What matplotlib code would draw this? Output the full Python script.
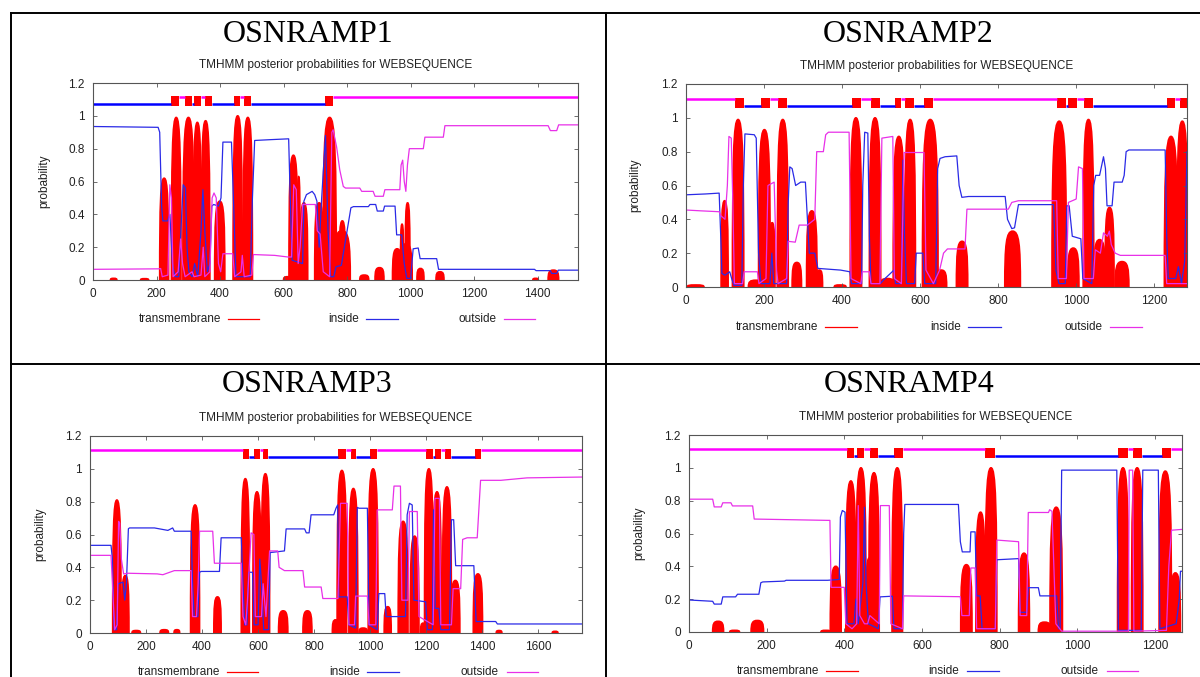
import matplotlib
matplotlib.use("Agg")
import matplotlib.pyplot as plt
from matplotlib.path import Path
from matplotlib.patches import PathPatch
from matplotlib.lines import Line2D

# ---- data ----
names = ["OSNRAMP1", "OSNRAMP2", "OSNRAMP3", "OSNRAMP4"]
seq_len = [1527, 1284, 1756, 1270]

# transmembrane peaks: (start, end, height)
tm1 = [(55, 75, 0.01), (150, 175, 0.008), (210, 238, 0.62), (247, 277, 0.99), (283, 318, 0.99),
       (316, 341, 0.96), (341, 368, 0.97), (383, 415, 0.48), (441, 470, 1.0), (473, 502, 0.99),
       (600, 625, 0.02), (617, 645, 0.76), (643, 652, 0.63), (652, 676, 0.47), (698, 726, 0.47),
       (724, 766, 0.99), (757, 810, 0.3), (775, 795, 0.36), (840, 868, 0.03), (888, 916, 0.075),
       (943, 972, 0.19), (965, 1005, 0.22), (968, 978, 0.34), (983, 998, 0.47), (1020, 1042, 0.07),
       (1080, 1105, 0.05), (1385, 1402, 0.01), (1433, 1466, 0.06)]
tm2 = [(3, 46, 0.012), (90, 108, 0.51), (119, 148, 0.99), (160, 198, 0.04), (186, 216, 0.93),
       (214, 228, 0.38), (234, 262, 0.99), (272, 296, 0.145), (309, 336, 0.45), (334, 350, 0.1),
       (380, 410, 0.012), (421, 450, 1.0), (470, 499, 1.0), (498, 534, 0.05), (531, 560, 0.89),
       (561, 588, 0.99), (606, 646, 0.99), (640, 668, 0.1), (693, 722, 0.27), (817, 857, 0.33),
       (938, 975, 0.98), (978, 1007, 0.23), (1018, 1045, 0.99), (1045, 1075, 0.28),
       (1074, 1097, 0.47), (1100, 1135, 0.15), (1226, 1260, 0.89), (1258, 1286, 0.98)]
tm3 = [(81, 111, 0.81), (113, 139, 0.35), (150, 180, 0.015), (250, 280, 0.02), (300, 320, 0.02),
       (359, 391, 0.78), (442, 468, 0.22), (540, 569, 0.94), (581, 611, 0.86), (611, 641, 0.97),
       (673, 706, 0.135), (760, 792, 0.135), (865, 888, 0.08), (882, 916, 0.99), (924, 956, 0.88),
       (960, 990, 0.03), (993, 1028, 1.0), (1050, 1075, 0.16), (1100, 1135, 0.68),
       (1143, 1174, 0.59), (1180, 1198, 0.06), (1194, 1225, 1.0), (1223, 1254, 0.86),
       (1258, 1290, 0.89), (1288, 1320, 0.32), (1368, 1401, 0.36), (1450, 1470, 0.015),
       (1650, 1670, 0.01)]
tm4 = [(61, 89, 0.065), (105, 130, 0.01), (160, 192, 0.07), (340, 365, 0.01), (364, 392, 0.4),
       (404, 430, 0.92), (430, 456, 1.0), (456, 472, 0.45), (463, 490, 0.97), (523, 550, 1.0),
       (700, 729, 0.41), (739, 763, 0.73), (763, 793, 1.0), (849, 877, 0.48), (900, 932, 0.06),
       (930, 962, 0.76), (1104, 1132, 1.0), (1140, 1169, 1.0), (1211, 1243, 0.98),
       (1240, 1266, 0.36)]

# inside probability (x, p)
inside1 = [(0, 0.935), (205, 0.93), (210, 0.9), (216, 0.45), (220, 0.36), (235, 0.36), (242, 0.4),
           (250, 0.1), (258, 0.02), (270, 0.02), (278, 0.35), (284, 0.58), (291, 0.56), (296, 0.2),
           (302, 0.05), (312, 0.02), (320, 0.1), (330, 0.02), (340, 0.3), (346, 0.55), (352, 0.3),
           (360, 0.05), (368, 0.1), (374, 0.45), (380, 0.46), (395, 0.45), (403, 0.5), (409, 0.84),
           (436, 0.84), (442, 0.5), (450, 0.02), (495, 0.02), (502, 0.5), (509, 0.85), (560, 0.855),
           (616, 0.86), (621, 0.5), (627, 0.12), (660, 0.1), (664, 0.48), (672, 0.52), (690, 0.54),
           (698, 0.52), (705, 0.48), (712, 0.2), (720, 0.5), (732, 0.88), (740, 0.3), (748, 0.02),
           (758, 0.02), (765, 0.08), (782, 0.09), (800, 0.3), (812, 0.44), (820, 0.447),
           (867, 0.447), (872, 0.46), (890, 0.46), (895, 0.42), (914, 0.42), (918, 0.45),
           (951, 0.45), (956, 0.275), (972, 0.275), (980, 0.1), (988, 0.01), (1000, 0.01),
           (1008, 0.19), (1024, 0.195), (1030, 0.13), (1082, 0.13), (1088, 0.065), (1390, 0.065),
           (1395, 0.057), (1440, 0.057), (1444, 0.04), (1460, 0.04), (1465, 0.06), (1527, 0.06)]
inside2 = [(0, 0.545), (50, 0.55), (85, 0.555), (89, 0.3), (92, 0.08), (100, 0.07), (112, 0.09),
           (117, 0.05), (123, 0.01), (143, 0.01), (147, 0.6), (151, 0.905), (175, 0.9), (180, 0.88),
           (186, 0.2), (192, 0.02), (215, 0.02), (220, 0.2), (225, 0.02), (258, 0.02), (262, 0.5),
           (266, 0.71), (272, 0.7), (281, 0.6), (294, 0.62), (306, 0.62), (310, 0.45), (316, 0.2),
           (330, 0.2), (338, 0.11), (396, 0.1), (420, 0.09), (424, 0.02), (450, 0.02), (453, 0.6),
           (458, 0.915), (466, 0.91), (470, 0.3), (474, 0.02), (498, 0.02), (510, 0.05), (533, 0.1),
           (537, 0.02), (552, 0.02), (556, 0.75), (560, 0.3), (565, 0.02), (586, 0.02), (590, 0.2),
           (607, 0.2), (612, 0.02), (640, 0.02), (645, 0.7), (651, 0.76), (664, 0.77), (694, 0.775),
           (700, 0.6), (707, 0.53), (724, 0.535), (818, 0.535), (824, 0.4), (835, 0.345),
           (842, 0.35), (852, 0.487), (942, 0.487), (948, 0.1), (956, 0.02), (972, 0.02),
           (976, 0.48), (982, 0.48), (990, 0.3), (1012, 0.285), (1017, 0.05), (1040, 0.02),
           (1045, 0.6), (1050, 0.66), (1060, 0.66), (1070, 0.77), (1075, 0.7), (1079, 0.48),
           (1092, 0.48), (1097, 0.62), (1118, 0.62), (1123, 0.66), (1128, 0.8), (1135, 0.81),
           (1228, 0.81), (1232, 0.3), (1236, 0.05), (1255, 0.05), (1262, 0.12), (1270, 0.02),
           (1278, 0.15), (1284, 0.8)]
inside3 = [(0, 0.534), (75, 0.534), (80, 0.45), (86, 0.02), (95, 0.02), (100, 0.3), (118, 0.31),
           (124, 0.2), (130, 0.3), (137, 0.635), (141, 0.64), (230, 0.64), (278, 0.625), (295, 0.64),
           (301, 0.62), (361, 0.62), (366, 0.3), (372, 0.1), (385, 0.1), (391, 0.37), (397, 0.375),
           (462, 0.375), (468, 0.58), (540, 0.58), (546, 0.3), (552, 0.05), (560, 0.05), (566, 0.37),
           (580, 0.37), (586, 0.05), (600, 0.05), (606, 0.45), (612, 0.3), (620, 0.02), (638, 0.02),
           (643, 0.49), (694, 0.5), (700, 0.634), (766, 0.634), (772, 0.61), (782, 0.61),
           (789, 0.72), (870, 0.72), (878, 0.76), (884, 0.78), (888, 0.22), (918, 0.22), (924, 0.05),
           (948, 0.03), (954, 0.765), (960, 0.76), (990, 0.76), (996, 0.05), (1025, 0.02),
           (1031, 0.24), (1052, 0.24), (1057, 0.1), (1126, 0.1), (1132, 0.72), (1140, 0.79),
           (1150, 0.78), (1156, 0.2), (1198, 0.19), (1204, 0.02), (1222, 0.02), (1226, 0.75),
           (1232, 0.15), (1245, 0.15), (1252, 0.02), (1283, 0.02), (1290, 0.69), (1298, 0.69),
           (1305, 0.41), (1370, 0.41), (1378, 0.07), (1448, 0.07), (1454, 0.055), (1756, 0.055)]
inside4 = [(0, 0.195), (61, 0.187), (65, 0.17), (83, 0.17), (87, 0.214), (120, 0.214), (125, 0.23),
           (180, 0.23), (185, 0.3), (190, 0.305), (246, 0.31), (250, 0.315), (357, 0.315),
           (387, 0.32), (390, 0.7), (395, 0.74), (402, 0.73), (407, 0.05), (425, 0.05), (430, 0.2),
           (436, 0.05), (448, 0.3), (452, 0.76), (456, 0.3), (462, 0.05), (488, 0.02), (492, 0.214),
           (524, 0.218), (528, 0.02), (550, 0.02), (553, 0.6), (556, 0.777), (694, 0.777),
           (699, 0.55), (704, 0.488), (724, 0.488), (726, 0.61), (737, 0.61), (741, 0.22),
           (750, 0.22), (755, 0.02), (789, 0.02), (793, 0.44), (849, 0.447), (853, 0.12),
           (870, 0.12), (874, 0.27), (900, 0.27), (904, 0.22), (947, 0.22), (952, 0.02), (956, 0.02),
           (960, 0.986), (1102, 0.986), (1106, 0.01), (1165, 0.01), (1169, 0.986), (1209, 0.986),
           (1213, 0.02), (1255, 0.05), (1263, 0.2), (1266, 0.37), (1270, 0.37)]

# outside probability (x, p)
outside1 = [(0, 0.065), (208, 0.068), (213, 0.07), (218, 0.02), (236, 0.03), (242, 0.58),
            (247, 0.5), (252, 0.02), (268, 0.05), (276, 0.25), (282, 0.1), (290, 0.02), (312, 0.05),
            (318, 0.02), (340, 0.03), (347, 0.2), (352, 0.02), (368, 0.05), (375, 0.5), (381, 0.53),
            (388, 0.5), (395, 0.1), (402, 0.05), (409, 0.16), (440, 0.16), (446, 0.02), (466, 0.05),
            (470, 0.15), (476, 0.02), (500, 0.03), (505, 0.155), (572, 0.15), (614, 0.14),
            (625, 0.14), (632, 0.58), (640, 0.55), (646, 0.1), (652, 0.2), (660, 0.46), (700, 0.46),
            (706, 0.3), (715, 0.28), (725, 0.05), (745, 0.02), (752, 0.9), (756, 0.915), (767, 0.81),
            (777, 0.67), (788, 0.57), (795, 0.56), (840, 0.56), (846, 0.54), (882, 0.54),
            (888, 0.51), (914, 0.51), (919, 0.55), (966, 0.55), (970, 0.7), (975, 0.73), (980, 0.6),
            (985, 0.54), (990, 0.7), (996, 0.8), (1040, 0.8), (1045, 0.87), (1103, 0.87),
            (1108, 0.94), (1433, 0.94), (1440, 0.91), (1460, 0.91), (1466, 0.945), (1527, 0.945)]
outside2 = [(0, 0.455), (40, 0.45), (85, 0.445), (90, 0.42), (100, 0.4), (106, 0.6), (110, 0.89),
            (116, 0.88), (120, 0.5), (124, 0.02), (145, 0.02), (149, 0.09), (183, 0.09), (187, 0.02),
            (205, 0.05), (210, 0.6), (226, 0.62), (232, 0.1), (236, 0.02), (258, 0.05), (262, 0.27),
            (280, 0.265), (290, 0.366), (311, 0.366), (330, 0.4), (335, 0.8), (352, 0.8), (358, 0.9),
            (365, 0.915), (418, 0.915), (423, 0.05), (448, 0.02), (452, 0.09), (470, 0.09),
            (474, 0.02), (497, 0.02), (502, 0.88), (530, 0.89), (534, 0.05), (552, 0.02),
            (559, 0.795), (610, 0.795), (615, 0.1), (634, 0.02), (650, 0.1), (660, 0.2),
            (670, 0.225), (715, 0.225), (720, 0.46), (826, 0.46), (835, 0.5), (852, 0.51),
            (950, 0.51), (954, 0.05), (975, 0.05), (980, 0.5), (1000, 0.52), (1006, 0.71),
            (1016, 0.7), (1020, 0.05), (1044, 0.05), (1049, 0.22), (1062, 0.2), (1070, 0.32),
            (1080, 0.3), (1085, 0.33), (1090, 0.25), (1100, 0.2), (1113, 0.187), (1228, 0.187),
            (1232, 0.02), (1284, 0.02)]
outside3 = [(0, 0.473), (75, 0.473), (80, 0.3), (88, 0.02), (97, 0.05), (102, 0.68), (106, 0.67),
            (112, 0.45), (120, 0.36), (135, 0.364), (240, 0.36), (260, 0.355), (301, 0.38),
            (361, 0.38), (366, 0.1), (380, 0.1), (386, 0.3), (391, 0.62), (438, 0.62), (444, 0.425),
            (540, 0.425), (546, 0.1), (556, 0.05), (562, 0.2), (575, 0.61), (585, 0.6), (590, 0.1),
            (612, 0.1), (618, 0.3), (628, 0.1), (641, 0.5), (670, 0.5), (675, 0.4), (694, 0.38),
            (760, 0.38), (766, 0.28), (825, 0.28), (831, 0.21), (885, 0.21), (894, 0.79),
            (918, 0.79), (924, 0.05), (944, 0.05), (948, 0.225), (990, 0.225), (996, 0.05),
            (1020, 0.05), (1025, 0.75), (1079, 0.75), (1085, 0.895), (1108, 0.895), (1113, 0.2),
            (1135, 0.2), (1140, 0.74), (1168, 0.74), (1174, 0.1), (1225, 0.05), (1231, 0.82),
            (1247, 0.82), (1252, 0.05), (1290, 0.05), (1296, 0.27), (1323, 0.27), (1330, 0.57),
            (1346, 0.58), (1382, 0.58), (1394, 0.93), (1466, 0.93), (1560, 0.945), (1756, 0.95)]
outside4 = [(0, 0.809), (61, 0.809), (65, 0.762), (83, 0.762), (87, 0.787), (108, 0.787),
            (112, 0.768), (164, 0.768), (168, 0.688), (357, 0.68), (363, 0.68), (366, 0.272),
            (400, 0.272), (404, 0.05), (420, 0.02), (432, 0.05), (436, 0.77), (440, 0.1),
            (452, 0.05), (460, 0.05), (466, 0.1), (490, 0.05), (493, 0.77), (516, 0.77), (520, 0.05),
            (550, 0.02), (553, 0.22), (699, 0.215), (703, 0.1), (722, 0.1), (726, 0.39), (737, 0.39),
            (741, 0.02), (789, 0.02), (793, 0.56), (849, 0.55), (853, 0.1), (870, 0.1), (874, 0.728),
            (926, 0.728), (929, 0.745), (935, 0.735), (945, 0.05), (960, 0.005), (1132, 0.005),
            (1134, 0.986), (1143, 0.986), (1146, 0.005), (1230, 0.01), (1236, 0.4), (1243, 0.62),
            (1270, 0.625)]

# predicted topology: (kind, start, end)  i=inside, o=outside, M=membrane helix
topo1 = [("i", 0, 247), ("M", 247, 270), ("o", 270, 289), ("M", 289, 312), ("i", 312, 318),
         ("M", 318, 339), ("o", 339, 352), ("M", 352, 375), ("i", 375, 443), ("M", 443, 464),
         ("o", 464, 475), ("M", 475, 496), ("i", 496, 730), ("M", 730, 755), ("o", 755, 1527)]
topo2 = [("o", 0, 125), ("M", 125, 149), ("i", 149, 193), ("M", 193, 215), ("o", 215, 236),
         ("M", 236, 258), ("i", 258, 426), ("M", 426, 448), ("o", 448, 474), ("M", 474, 498),
         ("i", 498, 535), ("M", 535, 552), ("o", 552, 561), ("M", 561, 585), ("i", 585, 610),
         ("M", 610, 634), ("o", 634, 950), ("M", 950, 974), ("i", 974, 980), ("M", 980, 1002),
         ("o", 1002, 1021), ("M", 1021, 1044), ("i", 1044, 1232), ("M", 1232, 1254),
         ("o", 1254, 1267), ("M", 1267, 1290)]
topo3 = [("o", 0, 545), ("M", 545, 569), ("i", 569, 587), ("M", 587, 605), ("o", 605, 617),
         ("M", 617, 637), ("i", 637, 884), ("M", 884, 912), ("o", 912, 930), ("M", 930, 951),
         ("i", 951, 999), ("M", 999, 1023), ("o", 1023, 1201), ("M", 1201, 1225),
         ("i", 1225, 1231), ("M", 1231, 1251), ("o", 1251, 1266), ("M", 1266, 1287),
         ("i", 1287, 1373), ("M", 1373, 1394), ("o", 1394, 1756)]
topo4 = [("o", 0, 407), ("M", 407, 426), ("i", 426, 434), ("M", 434, 451), ("o", 451, 467),
         ("M", 467, 488), ("i", 488, 527), ("M", 527, 550), ("o", 550, 763), ("M", 763, 789),
         ("i", 789, 1106), ("M", 1106, 1132), ("o", 1132, 1143), ("M", 1143, 1166),
         ("i", 1166, 1218), ("M", 1218, 1241), ("o", 1241, 1270)]

ytick_vals = [0, 0.2, 0.4, 0.6, 0.8, 1.0, 1.2]
ytick_labels = ["0", "0.2", "0.4", "0.6", "0.8", "1", "1.2"]
legend_names = ["transmembrane", "inside", "outside"]

# ---- layout (pixel boxes of the original figure) ----
W, H = 1200, 677
axes_px = [(93, 83, 578, 280), (686, 84, 1187, 287), (90, 436, 582, 633), (689, 435, 1182, 632)]
title_px = [(308, 34), (908, 34), (307, 384), (909, 384)]

RED = "#ff0000"
BLUE = "#2a2ae6"
MAG = "#e830e8"
TXT = "#222222"
sans = "Liberation Sans"

fig = plt.figure(figsize=(12, 6.77), dpi=100)
fig.patch.set_facecolor("white")

panels = [(tm1, inside1, outside1, topo1), (tm2, inside2, outside2, topo2),
          (tm3, inside3, outside3, topo3), (tm4, inside4, outside4, topo4)]

C4 = Path.CURVE4
for k, (tm, ins, outs, topo) in enumerate(panels):
    x0, y0, x1, y1 = axes_px[k]
    ax = fig.add_axes([x0 / W, 1 - y1 / H, (x1 - x0) / W, (y1 - y0) / H])
    xmax = seq_len[k]

    # transmembrane posterior: steep-sided, full red domes
    for l, r, h in tm:
        w = r - l
        c = (l + r) / 2
        verts = [(l, 0), (l, 0.78 * h), (l + 0.1 * w, h), (c, h),
                 (r - 0.1 * w, h), (r, 0.78 * h), (r, 0), (l, 0)]
        codes = [Path.MOVETO, C4, C4, C4, C4, C4, C4, Path.CLOSEPOLY]
        ax.add_patch(PathPatch(Path(verts, codes), facecolor=RED, edgecolor=RED, lw=1.2))

    ax.plot([p[0] for p in ins], [p[1] for p in ins], color=BLUE, lw=0.9)
    ax.plot([p[0] for p in outs], [p[1] for p in outs], color=MAG, lw=0.9)

    # topology bar on top
    for kind, s, e in topo:
        if kind == "i":
            ax.hlines(1.07, s, e, color="#0000ff", lw=1.8)
        elif kind == "o":
            ax.hlines(1.113, s, e, color="#ff00ff", lw=1.8)
    for kind, s, e in topo:
        if kind == "M":
            ax.broken_barh([(s, e - s)], (1.06, 0.06), facecolors=RED, edgecolor="none")

    ax.set_xlim(0, xmax)
    ax.set_ylim(0, 1.2)
    ax.set_xticks(list(range(0, xmax, 200)))
    ax.set_yticks(ytick_vals)
    ax.set_yticklabels(ytick_labels)
    ax.tick_params(direction="in", top=True, right=True, length=3, width=0.6,
                   labelsize=8.5, pad=6, colors="#555555", labelcolor=TXT)
    for lab in ax.get_xticklabels() + ax.get_yticklabels():
        lab.set_fontfamily(sans)
    for sp in ax.spines.values():
        sp.set_color("#555555")
        sp.set_linewidth(0.8)

    ax.set_ylabel("probability", fontsize=8.5, family=sans, color=TXT)
    ax.yaxis.set_label_coords(-0.089, 0.5)

    # subtitle
    fig.text((x0 + x1) / 2 / W, 1 - (y0 - 18) / H,
             "TMHMM posterior probabilities for WEBSEQUENCE",
             ha="center", va="center", fontsize=8.5, family=sans, color=TXT)

    # legend drawn below the axes like gnuplot
    text_x = [0.264, 0.548, 0.831]
    line_x = [(0.278, 0.342), (0.563, 0.629), (0.847, 0.911)]
    colors = [RED, BLUE, MAG]
    for j in range(3):
        ax.text(text_x[j], -0.198, legend_names[j], transform=ax.transAxes, ha="right",
                va="center", fontsize=8.5, family=sans, color=TXT)
        ax.add_line(Line2D(line_x[j], [-0.198, -0.198], transform=ax.transAxes,
                           color=colors[j], lw=0.9, clip_on=False))

    tx, ty = title_px[k]
    fig.text(tx / W, 1 - ty / H, names[k], ha="center", va="center",
             fontsize=23, family="Liberation Serif", color="black")

# table borders
borders = [((11, 13), (1200, 13)), ((11, 13), (11, 677)), ((605.5, 13), (605.5, 677)),
           ((11, 364), (1200, 364))]
for (ax0, ay0), (ax1, ay1) in borders:
    fig.add_artist(Line2D([ax0 / W, ax1 / W], [1 - ay0 / H, 1 - ay1 / H],
                          transform=fig.transFigure, color="black", lw=1.4))

fig.savefig("out.png", dpi=100)
